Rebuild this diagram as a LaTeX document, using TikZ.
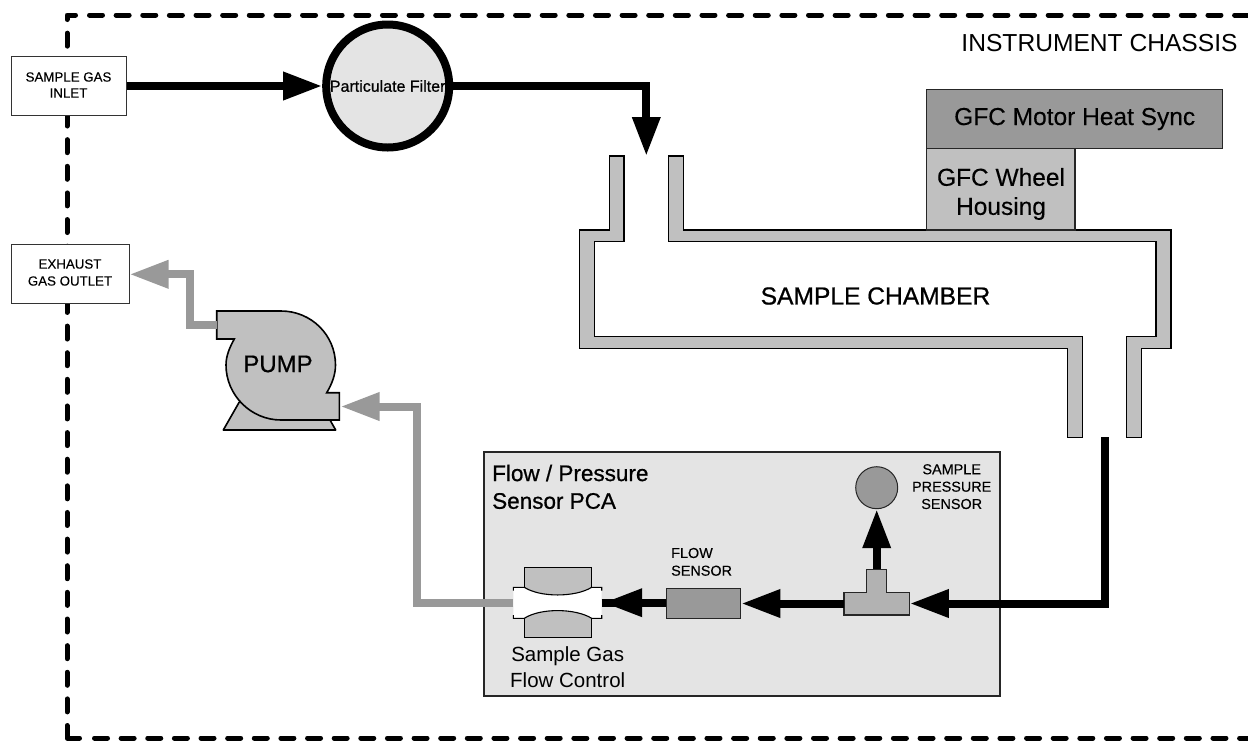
\documentclass[tikz,border=0pt]{standalone}
\usepackage{fontspec}
\setmainfont{Liberation Sans}
\newfontfamily\fbfont[FakeBold=0.7]{Liberation Sans}
\newfontfamily\fblight[FakeBold=0.2]{Liberation Sans}
\usetikzlibrary{arrows.meta,calc}
\definecolor{lgray}{HTML}{E4E4E4}
\definecolor{mgray}{HTML}{C0C0C0}
\definecolor{dgray}{HTML}{999999}
\definecolor{tgray}{HTML}{B2B2B2}
\newcommand{\fs}[1]{\fontsize{#1}{#1}\selectfont}
\tikzset{
  chassis/.style={line width=5pt,line cap=round,line join=round},
  chassisdash/.style={chassis,dash pattern=on 13pt off 13.63pt},
  pipe/.style={line width=8pt,line join=miter,line cap=butt,draw=black},
  gpipe/.style={pipe,draw=dgray},
  head/.style={-{Triangle[length=39pt,width=26.5pt]}},
  gashead/.style={head,-{Triangle[length=39pt,width=26.5pt,fill=dgray]}},
  portbox/.style={draw=black!80,line width=1pt,fill=white,inner sep=0pt},
  wall/.style={draw=black,line width=1.1pt,fill=mgray,line join=miter},
  blockbox/.style={draw=black!85,line width=1.1pt,inner sep=0pt,align=center},
  label/.style={inner sep=0pt,align=center},
  smalltext/.style={label,font=\fblight\fs{14.4}},
  porttext/.style={label,font=\fblight\fs{13.3}},
  midtext/.style={label,font=\fblight\fs{24.5}},
}
\begin{document}
\begin{tikzpicture}[x=1pt,y=-1pt]
\useasboundingbox (0,0) rectangle (1248,740);
% chassis
\draw[chassisdash] (89.5,15) -- (1250,15);
\draw[chassisdash] (75.5,15) -- (67,15) -- (67,716);
\draw[chassis] (67,725.5) -- (67,738) -- (79.5,738);
\draw[chassisdash] (94.5,738) -- (1250,738);
\node[label,font=\fs{24.6},anchor=center] (chassislabel) at (1099.5,43) {INSTRUMENT CHASSIS};
% ports
\node[portbox,minimum width=115pt,minimum height=59pt] (inlet) at (68.5,86) {};
\node[porttext] (inlettext1) at (68.5,77) {SAMPLE GAS};
\node[porttext] (inlettext2) at (68.5,93) {INLET};
\node[portbox,minimum width=118pt,minimum height=59pt] (exhaust) at (70,274) {};
\node[porttext] (exhausttext1) at (70,264) {EXHAUST};
\node[porttext] (exhausttext2) at (70,281) {GAS OUTLET};
% filter
\node[circle,draw=black,line width=8pt,fill=lgray,minimum size=123pt,inner sep=0pt,font=\fbfont\fs{16}] (filter) at (387.7,86) {Particulate Filter};
% chamber
\draw[wall] (609.3,156) -- (624,156) -- (624,241.7) -- (594.3,241.7) -- (594.3,336.7) -- (1082.3,336.7) -- (1082.3,437.3) -- (1067.7,437.3) -- (1067.7,348.3) -- (579.3,348.3) -- (579.3,230) -- (609.3,230) -- cycle;
\draw[wall] (668.3,156) -- (683.3,156) -- (683.3,230) -- (1171,230) -- (1171,348.3) -- (1141.7,348.3) -- (1141.7,437.3) -- (1126.7,437.3) -- (1126.7,336.7) -- (1156,336.7) -- (1156,241.7) -- (668.3,241.7) -- cycle;
\node[label,font=\fbfont\fs{24.6}] (chamber) at (875.5,296) {SAMPLE CHAMBER};
\coordinate (chamberin) at (646.3,156);
\coordinate (chamberout) at (1104.7,437.3);
% GFC
\node[blockbox,fill=dgray,minimum width=296pt,minimum height=59.4pt] (motor) at (1074.7,119) {};
\node[midtext] (motortext) at (1074.7,119) {GFC Motor Heat Sync};
\node[blockbox,fill=mgray,minimum width=148.3pt,minimum height=81.3pt] (wheel) at (1000.85,189.35) {};
\node[midtext] (wheeltext1) at (1001,177) {GFC Wheel};
\node[midtext] (wheeltext2) at (1001,208.5) {Housing};
% PCA
\node[draw=black!85,line width=2pt,fill=lgray,minimum width=516pt,minimum height=243.4pt,inner sep=0pt] (pca) at (742,574) {};
\node[label,font=\fbfont\fs{22.5},anchor=west] (pcatext1) at (492,473) {Flow / Pressure};
\node[label,font=\fbfont\fs{22.5},anchor=west] (pcatext2) at (492,501) {Sensor PCA};
% pump
\draw[draw=black,line width=1.6pt,fill=mgray,line join=round] (223.3,430) -- (239.3,402) -- (330,420) -- (335.7,430) -- cycle;
\draw[draw=black,line width=1.6pt,fill=mgray,line join=miter] (216.7,311) -- (216.7,339) -- (234.3,339)
  .. controls (229.8,347.1) and (226,355.7) .. (226,365)
  .. controls (226,395.1) and (250.9,420) .. (281,420)
  -- (339.3,420) -- (339.3,392.7) -- (326.7,392.7)
  .. controls (331.8,384.2) and (335.5,374.9) .. (335.5,365)
  .. controls (335.5,334.9) and (311.1,311) .. (281,311) -- cycle;
\node[label,font=\fbfont\fs{24}] (pump) at (278,364) {PUMP};
\coordinate (pumpout) at (216.7,325);
\coordinate (pumpin) at (340.5,406.5);
% valve
\draw[draw=black,line width=1.1pt,fill=mgray] (524.3,567.7) rectangle (591.7,598);
\draw[draw=black,line width=1.1pt,fill=mgray] (524.3,607) rectangle (591.7,637.3);
\fill[white] (513.3,587.3) -- (524.3,587.3) .. controls (540,597.5) and (575,597.5) .. (591.7,587.3) -- (601.7,587.3) -- (601.7,618.3) -- (591.7,618.3) .. controls (575,608) and (540,608) .. (524.3,618.3) -- (513.3,618.3) -- cycle;
\draw[black,line width=1.1pt] (513.3,590.5) -- (513.3,587.3) -- (524.3,587.3) .. controls (540,597.5) and (575,597.5) .. (591.7,587.3) -- (601.7,587.3) -- (601.7,590.5);
\draw[black,line width=1.1pt] (513.3,615) -- (513.3,618.3) -- (524.3,618.3) .. controls (540,608) and (575,608) .. (591.7,618.3) -- (601.7,618.3) -- (601.7,615);
\coordinate (valveW) at (513.3,602.7);
\coordinate (valveE) at (601.7,602.7);
\node[label,font=\fs{20.5}] (valvetext1) at (567.7,656) {Sample Gas};
\node[label,font=\fs{20.5}] (valvetext2) at (567.7,680) {Flow Control};
% flow sensor
\node[blockbox,fill=dgray,minimum width=74.7pt,minimum height=30pt] (flow) at (703.4,603.5) {};
\node[smalltext,anchor=west] (flowtext1) at (671,553) {FLOW};
\node[smalltext,anchor=west] (flowtext2) at (671,570.7) {SENSOR};
% tee
\draw[draw=black!85,line width=1.3pt,fill=tgray] (844,592.3) -- (866.7,592.3) -- (866.7,569.3) -- (886.7,569.3) -- (886.7,592.3) -- (909.3,592.3) -- (909.3,615) -- (844,615) -- cycle;
\coordinate (teeE) at (909.8,603.5);
\coordinate (teeW) at (844,603.5);
\coordinate (teeN) at (876.7,569.3);
% pressure sensor
\node[circle,draw=black!85,line width=1pt,fill=dgray,minimum size=42pt,inner sep=0pt] (press) at (876.7,487.7) {};
\node[smalltext] (presstext1) at (951.7,469.3) {SAMPLE};
\node[smalltext] (presstext2) at (951.7,486.7) {PRESSURE};
\node[smalltext] (presstext3) at (951.7,504) {SENSOR};
% connectors
\draw[pipe,head] (inlet.east) -- (filter.west);
\draw[pipe,head] (filter.east) -| (chamberin);
\draw[pipe,head] (chamberout) |- (teeE);
\draw[pipe,head] (teeN) -- (press.south);
\draw[pipe,head] (teeW) -- (flow.east);
\draw[pipe,head] (flow.west |- valveE) -- ($(valveE)+(1.5,0)$);
\draw[pipe] (valveE) -- ($(valveE)+(13,0)$);
\draw[gpipe,gashead] (valveW) -- (417,602.7) -- (417,406.5) -- (pumpin);
\draw[gpipe,gashead] (pumpout) -- (190,325) -- (190,274.3) -- (exhaust.east |- 0,274.3);
\end{tikzpicture}
\end{document}
